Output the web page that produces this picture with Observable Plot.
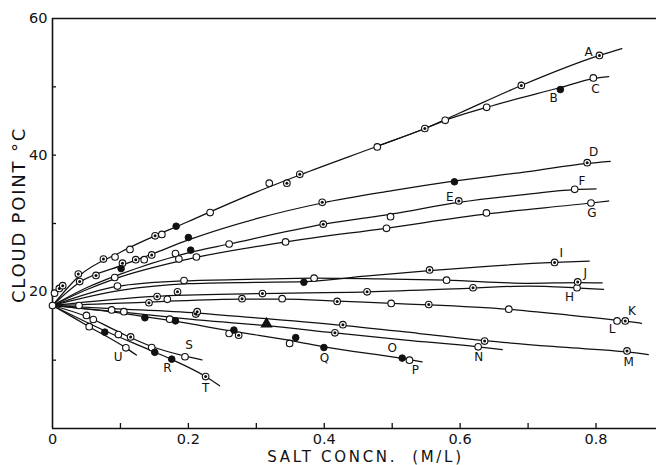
<!DOCTYPE html>
<html>
<head>
<meta charset="utf-8">
<script src="https://cdn.jsdelivr.net/npm/d3@7"></script>
<script src="https://cdn.jsdelivr.net/npm/@observablehq/plot@0.6"></script>
<style>
  body { margin: 0; background: #fff; }
</style>
</head>
<body>
<div id="chart"></div>
<script>
// Cloud point (°C) against salt concentration (M/L): smoothed curves, one per salt series.
const curveA = [[0,18],[0.04,22.4],[0.1,25.8],[0.2,30.3],[0.3,34.6],[0.364,37.1],[0.478,41.3],[0.548,43.9],[0.6,46.2],[0.69,50.2],[0.805,54.6],[0.838,55.6]];
const curveC = [[0.478,41.3],[0.548,43.9],[0.578,45.1],[0.639,47.0],[0.7475,49.9],[0.796,51.2],[0.8186,51.5]];
const curveD = [[0,18],[0.04,21.4],[0.1,23.8],[0.146,25.5],[0.2,27.6],[0.3,30.7],[0.397,33.0],[0.5,34.8],[0.59,36.2],[0.7,37.6],[0.787,38.8],[0.821,39.1]];
const curveEF = [[0,18],[0.05,20.6],[0.1,22.6],[0.2,25.7],[0.26,27.0],[0.4,29.9],[0.5,31.4],[0.598,33.1],[0.7,34.3],[0.7686,34.95],[0.8,35.05]];
const curveG = [[0,18],[0.05,20.3],[0.0916,21.9],[0.2,24.8],[0.343,27.3],[0.49,29.3],[0.639,31.4],[0.7926,33.0],[0.8186,33.3]];
const curveI = [[0,18],[0.1,20.2],[0.2,21.2],[0.3,21.4],[0.37,21.5],[0.46,22.3],[0.555,23.1],[0.65,23.8],[0.739,24.3],[0.79,24.5]];
const curveJ = [[0,18],[0.0956,20.8],[0.1936,21.6],[0.3,21.85],[0.385,22.0],[0.48,21.9],[0.58,21.7],[0.7,21.25],[0.775,21.35],[0.809,21.3]];
const curveH = [[0,18],[0.15,19.35],[0.3,19.75],[0.463,20.0],[0.62,20.55],[0.7,20.85],[0.775,20.55],[0.811,20.35]];
const curveKL = [[0,18],[0.04,18.1],[0.142,18.5],[0.28,18.95],[0.34,18.95],[0.42,18.65],[0.5,18.3],[0.5538,18.1],[0.6716,17.45],[0.76,16.6],[0.843,15.7],[0.867,15.4]];
const curveM = [[0,18],[0.087,17.55],[0.213,16.9],[0.3,16.2],[0.4274,15.1],[0.54,13.9],[0.636,12.85],[0.75,11.9],[0.8456,11.2],[0.877,10.8]];
const curveN = [[0,18],[0.105,17.0],[0.218,15.85],[0.315,15.05],[0.4157,14.0],[0.52,12.95],[0.6265,11.95],[0.662,11.55]];
const curveOPQ = [[0,18],[0.1,16.9],[0.18,15.7],[0.267,14.2],[0.355,12.8],[0.4,11.95],[0.515,10.25],[0.544,9.75]];
const curveS = [[0,18],[0.055,16.2],[0.1,14.0],[0.146,12.0],[0.195,10.6],[0.22,10.05]];
const curveRT = [[0,18],[0.077,14.3],[0.15,11.2],[0.1755,10.1],[0.2254,7.6],[0.246,6.25]];
const curveU = [[0,18],[0.054,14.9],[0.108,11.8],[0.1235,10.75]];

// Measured points, by symbol
const openPts = [[0,18],[0.003,19.8],[0.092,25.1],[0.114,26.2],[0.161,28.4],[0.232,31.6],[0.319,35.9],[0.478,41.2],
  [0.578,45.1],[0.639,47.0],[0.796,51.3],
  [0.135,24.7],[0.181,25.6],[0.26,27.0],[0.4975,31.0],[0.7686,35.0],
  [0.0916,22.1],[0.186,24.8],[0.2118,25.1],[0.343,27.3],[0.4916,29.3],[0.6387,31.55],[0.7926,33.0],
  [0.0956,20.85],[0.1936,21.65],[0.385,22.0],[0.58,21.7],[0.772,20.6],
  [0.039,18.0],[0.169,18.9],[0.338,19.0],[0.4985,18.3],[0.6716,17.46],[0.831,15.75],
  [0.087,17.35],[0.105,17.1],[0.6265,11.95],
  [0.1725,16.0],[0.26,13.9],[0.349,12.45],[0.5254,10.0],
  [0.05,16.55],[0.06,15.95],[0.097,13.75],[0.146,11.85],[0.195,10.5],
  [0.054,14.9],[0.108,11.8]];
const halfPts = [[0.01,20.5],[0.015,20.9],[0.038,22.6],[0.075,24.8],[0.151,28.2],[0.345,35.9],[0.364,37.2],[0.548,43.9],[0.69,50.2],[0.805,54.6],
  [0.04,21.5],[0.064,22.4],[0.103,24.2],[0.1225,24.7],[0.146,25.4],[0.397,33.1],[0.787,38.9],
  [0.3985,29.9],[0.598,33.3],
  [0.555,23.2],[0.739,24.3],[0.773,21.45],
  [0.154,19.3],[0.184,20.0],[0.309,19.75],[0.463,20.0],[0.619,20.6],
  [0.142,18.4],[0.279,19.0],[0.419,18.6],[0.5538,18.15],[0.843,15.75],
  [0.211,16.75],[0.213,17.1],[0.4274,15.2],[0.636,12.8],[0.8456,11.35],
  [0.4157,14.0],[0.274,13.65],[0.115,13.4],[0.2254,7.6]];
const filledPts = [[0.182,29.6],[0.7475,49.6],[0.2,27.95],[0.5916,36.1],[0.101,23.4],[0.2034,26.1],[0.37,21.4],
  [0.136,16.2],[0.181,15.75],[0.267,14.4],[0.358,13.3],[0.3995,11.85],[0.5147,10.3],
  [0.077,14.1],[0.1505,11.15],[0.1755,10.15]];
const trianglePts = [[0.315,15.3]];

// Series letters beside the curves
const labelNames = ["A","B","C","D","E","F","G","I","J","H","K","L","M","N","O","P","Q","S","R","T","U"];
const labelX = [0.789,0.7377,0.799,0.7965,0.5847,0.7794,0.794,0.749,0.784,0.761,0.853,0.8235,0.848,0.6274,0.5,0.534,0.4004,0.201,0.169,0.2254,0.0965];
const labelY = [55.1,48.4,49.6,40.5,33.9,36.2,31.5,25.7,22.8,19.2,17.2,14.5,9.75,10.5,11.7,8.5,10.25,12.2,8.9,5.85,10.5];

// Axis ticks
const xMinorTicks = [0.1,0.2,0.3,0.4,0.5,0.6,0.7,0.8];
const yMinorTicks = [10,20,30,40,50];
const xTickLabels = [0,0.2,0.4,0.6,0.8];
const yTickLabels = [20,40,60];

const xTitle = "SALT CONCN.  (M/L)";
const yTitle = "CLOUD POINT °C";

const curves = [["A",curveA],["C",curveC],["D",curveD],["EF",curveEF],["G",curveG],["I",curveI],["J",curveJ],["H",curveH],
  ["KL",curveKL],["M",curveM],["N",curveN],["OPQ",curveOPQ],["S",curveS],["RT",curveRT],["U",curveU]];
const lineRows = curves.flatMap(([id, pts]) => pts.map(([x, y]) => ({id, x, y})));
const labels = labelNames.map((t, i) => ({t, x: labelX[i], y: labelY[i]}));

const px = d => d[0], py = d => d[1];

const chart = Plot.plot({
  width: 657,
  height: 465,
  marginLeft: 52,
  marginRight: 1,
  marginTop: 18,
  marginBottom: 37,
  x: {domain: [0, 0.889]},
  y: {domain: [0, 60]},
  style: {fontFamily: "DejaVu Sans, sans-serif", fontSize: "14.5px", color: "#111", background: "#fff"},
  marks: [
    Plot.ruleY([0, 60], {stroke: "#111", strokeWidth: 1.6}),
    Plot.ruleX([0], {stroke: "#111", strokeWidth: 1.6}),
    Plot.axisX(xMinorTicks, {tickSize: -5, tickFormat: () => "", label: null, strokeWidth: 1.3}),
    Plot.axisY(yMinorTicks, {tickSize: -4, tickFormat: () => "", label: null, strokeWidth: 1.3}),
    Plot.axisX(xTickLabels, {tickSize: 0, tickPadding: 5, label: null, tickFormat: d => String(d)}),
    Plot.axisY(yTickLabels, {tickSize: 0, tickPadding: 5, label: null}),
    Plot.line(lineRows, {x: "x", y: "y", z: "id", curve: "monotone-x", stroke: "#111", strokeWidth: 1.25}),
    Plot.dot(openPts, {x: px, y: py, r: 3.3, fill: "#fff", stroke: "#111", strokeWidth: 1.1}),
    Plot.dot(halfPts, {x: px, y: py, r: 3.3, fill: "#fff", stroke: "#111", strokeWidth: 1.1}),
    Plot.dot(halfPts, {x: px, y: py, r: 1.5, fill: "#111"}),
    Plot.dot(filledPts, {x: px, y: py, r: 3.3, fill: "#111", stroke: "#111", strokeWidth: 1}),
    Plot.dot(trianglePts, {x: px, y: py, r: 3.6, symbol: "triangle", fill: "#111", stroke: "#111"}),
    Plot.text(labels, {x: "x", y: "y", text: "t", fontSize: 12, fill: "#111"}),
    Plot.text([xTitle], {frameAnchor: "bottom", textAnchor: "middle", lineAnchor: "bottom", dx: 11, dy: 33, fontSize: 15, fill: "#111"}),
    Plot.text([yTitle], {frameAnchor: "left", textAnchor: "middle", rotate: -90, dx: -33, dy: -8.5, fontSize: 18, fill: "#111"})
  ]
});

d3.select(chart).selectAll("text")
  .filter(function () { return this.textContent === xTitle; })
  .style("letter-spacing", "2.7px").style("white-space", "pre");
d3.select(chart).selectAll("text")
  .filter(function () { return this.textContent === yTitle; })
  .style("letter-spacing", "1.8px");

document.getElementById("chart").append(chart);
</script>
</body>
</html>
